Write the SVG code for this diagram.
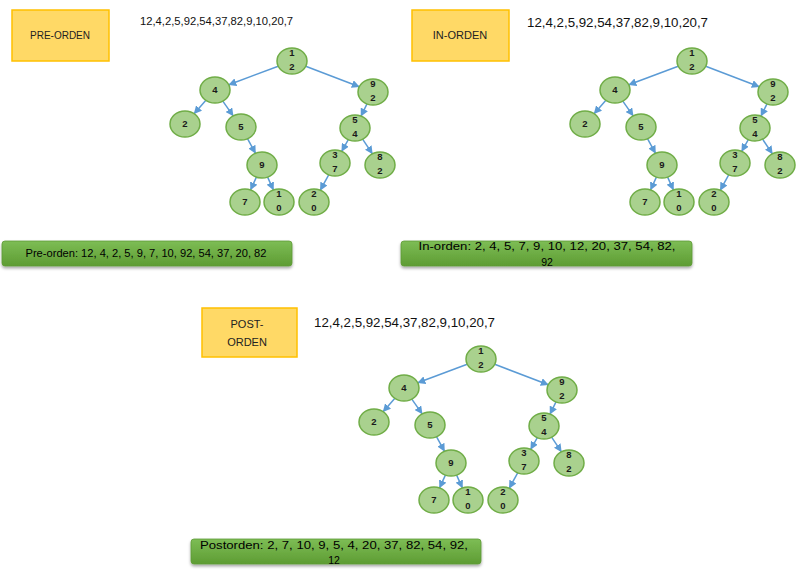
<svg xmlns="http://www.w3.org/2000/svg" width="802" height="571" viewBox="0 0 802 571">
<style>
.lbl{fill:#ffd966;stroke:#ffc000;stroke-width:1.5}
.lt{font-family:"Liberation Sans",Arial,sans-serif;fill:#222;text-anchor:middle}
.seq{font-family:"Liberation Sans",Arial,sans-serif;fill:#111}
.nd ellipse{fill:#a9d18e;stroke:#70ad47;stroke-width:1.5}
.nd text{font-family:"Liberation Sans",Arial,sans-serif;font-size:9.5px;font-weight:bold;fill:#1a1a1a;text-anchor:middle}
.ed line{stroke:#5b9bd5;stroke-width:1.5;marker-end:url(#ah)}
.bar{fill:url(#gg);stroke:#5e9a35;stroke-width:0.8;filter:url(#sh)}
.bt{font-family:"Liberation Sans",Arial,sans-serif;fill:#000;text-anchor:middle;font-size:10.5px}
</style>
<defs>
<marker id="ah" markerUnits="userSpaceOnUse" markerWidth="8" markerHeight="8" refX="7.5" refY="4" orient="auto">
<path d="M0,0 L8,4 L0,8 z" fill="#5b9bd5"/>
</marker>
<linearGradient id="gg" x1="0" y1="0" x2="0" y2="1">
<stop offset="0" stop-color="#7dbd55"/>
<stop offset="1" stop-color="#5e9c33"/>
</linearGradient>
<filter id="sh" x="-5%" y="-30%" width="110%" height="180%">
<feDropShadow dx="0" dy="2" stdDeviation="1.5" flood-color="#000" flood-opacity="0.35"/>
</filter>
</defs>

<!-- Tree 1 (Pre-orden) -->
<g id="pre-label"><rect class="lbl" x="12" y="10" width="97" height="51"/><text class="lt" x="60" y="39" font-size="10">PRE-ORDEN</text></g>
<text id="pre-seq" class="seq" x="140" y="25" font-size="10" textLength="153" lengthAdjust="spacingAndGlyphs">12,4,2,5,92,54,37,82,9,10,20,7</text>

<g id="t1-edges" class="ed">
<line x1="278.2" y1="66.2" x2="228.8" y2="84.8"/>
<line x1="305.7" y1="66.3" x2="359.3" y2="86.7"/>
<line x1="205.9" y1="100.3" x2="194.1" y2="113.7"/>
<line x1="222.8" y1="101.1" x2="233.2" y2="115.9"/>
<line x1="367" y1="103.9" x2="361" y2="116.1"/>
<line x1="348.3" y1="139.7" x2="341.7" y2="151.3"/>
<line x1="362.6" y1="139.2" x2="372.4" y2="153.8"/>
<line x1="247.5" y1="138.7" x2="255.5" y2="153.3"/>
<line x1="256.4" y1="177.1" x2="250.6" y2="189.9"/>
<line x1="267.6" y1="177.1" x2="273.4" y2="189.9"/>
<line x1="328.7" y1="174.8" x2="320.3" y2="190.2"/>
</g>
<g id="t1-n12" class="nd"><ellipse cx="292" cy="61" rx="15" ry="13"/><text x="292" y="56">1</text><text x="292" y="70">2</text></g>
<g id="t1-n4" class="nd"><ellipse cx="215" cy="90" rx="15" ry="13"/><text x="215" y="93">4</text></g>
<g id="t1-n92" class="nd"><ellipse cx="373" cy="92" rx="15" ry="13"/><text x="373" y="87">9</text><text x="373" y="101">2</text></g>
<g id="t1-n2" class="nd"><ellipse cx="185" cy="124" rx="15" ry="13"/><text x="185" y="127">2</text></g>
<g id="t1-n5" class="nd"><ellipse cx="241" cy="127" rx="15" ry="13"/><text x="241" y="130">5</text></g>
<g id="t1-n54" class="nd"><ellipse cx="355" cy="128" rx="15" ry="13"/><text x="355" y="123">5</text><text x="355" y="137">4</text></g>
<g id="t1-n9" class="nd"><ellipse cx="262" cy="165" rx="15" ry="13"/><text x="262" y="168">9</text></g>
<g id="t1-n37" class="nd"><ellipse cx="335" cy="163" rx="15" ry="13"/><text x="335" y="158">3</text><text x="335" y="172">7</text></g>
<g id="t1-n82" class="nd"><ellipse cx="380" cy="165" rx="15" ry="13"/><text x="380" y="160">8</text><text x="380" y="174">2</text></g>
<g id="t1-n7" class="nd"><ellipse cx="245" cy="202" rx="15" ry="13"/><text x="245" y="205">7</text></g>
<g id="t1-n10" class="nd"><ellipse cx="279" cy="202" rx="15" ry="13"/><text x="279" y="197">1</text><text x="279" y="211">0</text></g>
<g id="t1-n20" class="nd"><ellipse cx="314" cy="202" rx="15" ry="13"/><text x="314" y="197">2</text><text x="314" y="211">0</text></g>

<g id="pre-result"><rect class="bar" x="2" y="241" width="290" height="25" rx="3"/><text class="bt" x="146" y="257" textLength="241" lengthAdjust="spacingAndGlyphs">Pre-orden: 12, 4, 2, 5, 9, 7, 10, 92, 54, 37, 20, 82</text></g>

<!-- Tree 2 (In-orden) -->
<g id="in-label"><rect class="lbl" x="412" y="10" width="97" height="51"/><text class="lt" x="460" y="39" font-size="11">IN-ORDEN</text></g>
<text id="in-seq" class="seq" x="527" y="27" font-size="12" textLength="181" lengthAdjust="spacingAndGlyphs">12,4,2,5,92,54,37,82,9,10,20,7</text>

<g transform="translate(400,0)">
<g id="t2-edges" class="ed">
<line x1="278.2" y1="66.2" x2="228.8" y2="84.8"/>
<line x1="305.7" y1="66.3" x2="359.3" y2="86.7"/>
<line x1="205.9" y1="100.3" x2="194.1" y2="113.7"/>
<line x1="222.8" y1="101.1" x2="233.2" y2="115.9"/>
<line x1="367" y1="103.9" x2="361" y2="116.1"/>
<line x1="348.3" y1="139.7" x2="341.7" y2="151.3"/>
<line x1="362.6" y1="139.2" x2="372.4" y2="153.8"/>
<line x1="247.5" y1="138.7" x2="255.5" y2="153.3"/>
<line x1="256.4" y1="177.1" x2="250.6" y2="189.9"/>
<line x1="267.6" y1="177.1" x2="273.4" y2="189.9"/>
<line x1="328.7" y1="174.8" x2="320.3" y2="190.2"/>
</g>
<g id="t2-n12" class="nd"><ellipse cx="292" cy="61" rx="15" ry="13"/><text x="292" y="56">1</text><text x="292" y="70">2</text></g>
<g id="t2-n4" class="nd"><ellipse cx="215" cy="90" rx="15" ry="13"/><text x="215" y="93">4</text></g>
<g id="t2-n92" class="nd"><ellipse cx="373" cy="92" rx="15" ry="13"/><text x="373" y="87">9</text><text x="373" y="101">2</text></g>
<g id="t2-n2" class="nd"><ellipse cx="185" cy="124" rx="15" ry="13"/><text x="185" y="127">2</text></g>
<g id="t2-n5" class="nd"><ellipse cx="241" cy="127" rx="15" ry="13"/><text x="241" y="130">5</text></g>
<g id="t2-n54" class="nd"><ellipse cx="355" cy="128" rx="15" ry="13"/><text x="355" y="123">5</text><text x="355" y="137">4</text></g>
<g id="t2-n9" class="nd"><ellipse cx="262" cy="165" rx="15" ry="13"/><text x="262" y="168">9</text></g>
<g id="t2-n37" class="nd"><ellipse cx="335" cy="163" rx="15" ry="13"/><text x="335" y="158">3</text><text x="335" y="172">7</text></g>
<g id="t2-n82" class="nd"><ellipse cx="380" cy="165" rx="15" ry="13"/><text x="380" y="160">8</text><text x="380" y="174">2</text></g>
<g id="t2-n7" class="nd"><ellipse cx="245" cy="202" rx="15" ry="13"/><text x="245" y="205">7</text></g>
<g id="t2-n10" class="nd"><ellipse cx="279" cy="202" rx="15" ry="13"/><text x="279" y="197">1</text><text x="279" y="211">0</text></g>
<g id="t2-n20" class="nd"><ellipse cx="314" cy="202" rx="15" ry="13"/><text x="314" y="197">2</text><text x="314" y="211">0</text></g>
</g>

<g id="in-result"><rect class="bar" x="401" y="241" width="291" height="25" rx="3"/><text class="bt" x="547" y="250" font-size="11" textLength="257" lengthAdjust="spacingAndGlyphs">In-orden: 2, 4, 5, 7, 9, 10, 12, 20, 37, 54, 82,</text><text class="bt" x="547" y="266" font-size="11">92</text></g>

<!-- Tree 3 (Post-orden) -->
<g id="post-label"><rect class="lbl" x="202" y="308" width="95" height="49"/><text class="lt" x="247" y="328" font-size="11">POST-</text><text class="lt" x="247" y="346" font-size="11">ORDEN</text></g>
<text id="post-seq" class="seq" x="314" y="327" font-size="12" textLength="181" lengthAdjust="spacingAndGlyphs">12,4,2,5,92,54,37,82,9,10,20,7</text>

<g transform="translate(189,298)">
<g id="t3-edges" class="ed">
<line x1="278.2" y1="66.2" x2="228.8" y2="84.8"/>
<line x1="305.7" y1="66.3" x2="359.3" y2="86.7"/>
<line x1="205.9" y1="100.3" x2="194.1" y2="113.7"/>
<line x1="222.8" y1="101.1" x2="233.2" y2="115.9"/>
<line x1="367" y1="103.9" x2="361" y2="116.1"/>
<line x1="348.3" y1="139.7" x2="341.7" y2="151.3"/>
<line x1="362.6" y1="139.2" x2="372.4" y2="153.8"/>
<line x1="247.5" y1="138.7" x2="255.5" y2="153.3"/>
<line x1="256.4" y1="177.1" x2="250.6" y2="189.9"/>
<line x1="267.6" y1="177.1" x2="273.4" y2="189.9"/>
<line x1="328.7" y1="174.8" x2="320.3" y2="190.2"/>
</g>
<g id="t3-n12" class="nd"><ellipse cx="292" cy="61" rx="15" ry="13"/><text x="292" y="56">1</text><text x="292" y="70">2</text></g>
<g id="t3-n4" class="nd"><ellipse cx="215" cy="90" rx="15" ry="13"/><text x="215" y="93">4</text></g>
<g id="t3-n92" class="nd"><ellipse cx="373" cy="92" rx="15" ry="13"/><text x="373" y="87">9</text><text x="373" y="101">2</text></g>
<g id="t3-n2" class="nd"><ellipse cx="185" cy="124" rx="15" ry="13"/><text x="185" y="127">2</text></g>
<g id="t3-n5" class="nd"><ellipse cx="241" cy="127" rx="15" ry="13"/><text x="241" y="130">5</text></g>
<g id="t3-n54" class="nd"><ellipse cx="355" cy="128" rx="15" ry="13"/><text x="355" y="123">5</text><text x="355" y="137">4</text></g>
<g id="t3-n9" class="nd"><ellipse cx="262" cy="165" rx="15" ry="13"/><text x="262" y="168">9</text></g>
<g id="t3-n37" class="nd"><ellipse cx="335" cy="163" rx="15" ry="13"/><text x="335" y="158">3</text><text x="335" y="172">7</text></g>
<g id="t3-n82" class="nd"><ellipse cx="380" cy="165" rx="15" ry="13"/><text x="380" y="160">8</text><text x="380" y="174">2</text></g>
<g id="t3-n7" class="nd"><ellipse cx="245" cy="202" rx="15" ry="13"/><text x="245" y="205">7</text></g>
<g id="t3-n10" class="nd"><ellipse cx="279" cy="202" rx="15" ry="13"/><text x="279" y="197">1</text><text x="279" y="211">0</text></g>
<g id="t3-n20" class="nd"><ellipse cx="314" cy="202" rx="15" ry="13"/><text x="314" y="197">2</text><text x="314" y="211">0</text></g>
</g>

<g id="post-result"><rect class="bar" x="191" y="539" width="290" height="25" rx="3"/><text class="bt" x="334" y="549" font-size="11" textLength="268" lengthAdjust="spacingAndGlyphs">Postorden: 2, 7, 10, 9, 5, 4, 20, 37, 82, 54, 92,</text><text class="bt" x="334" y="564" font-size="11">12</text></g>
</svg>
